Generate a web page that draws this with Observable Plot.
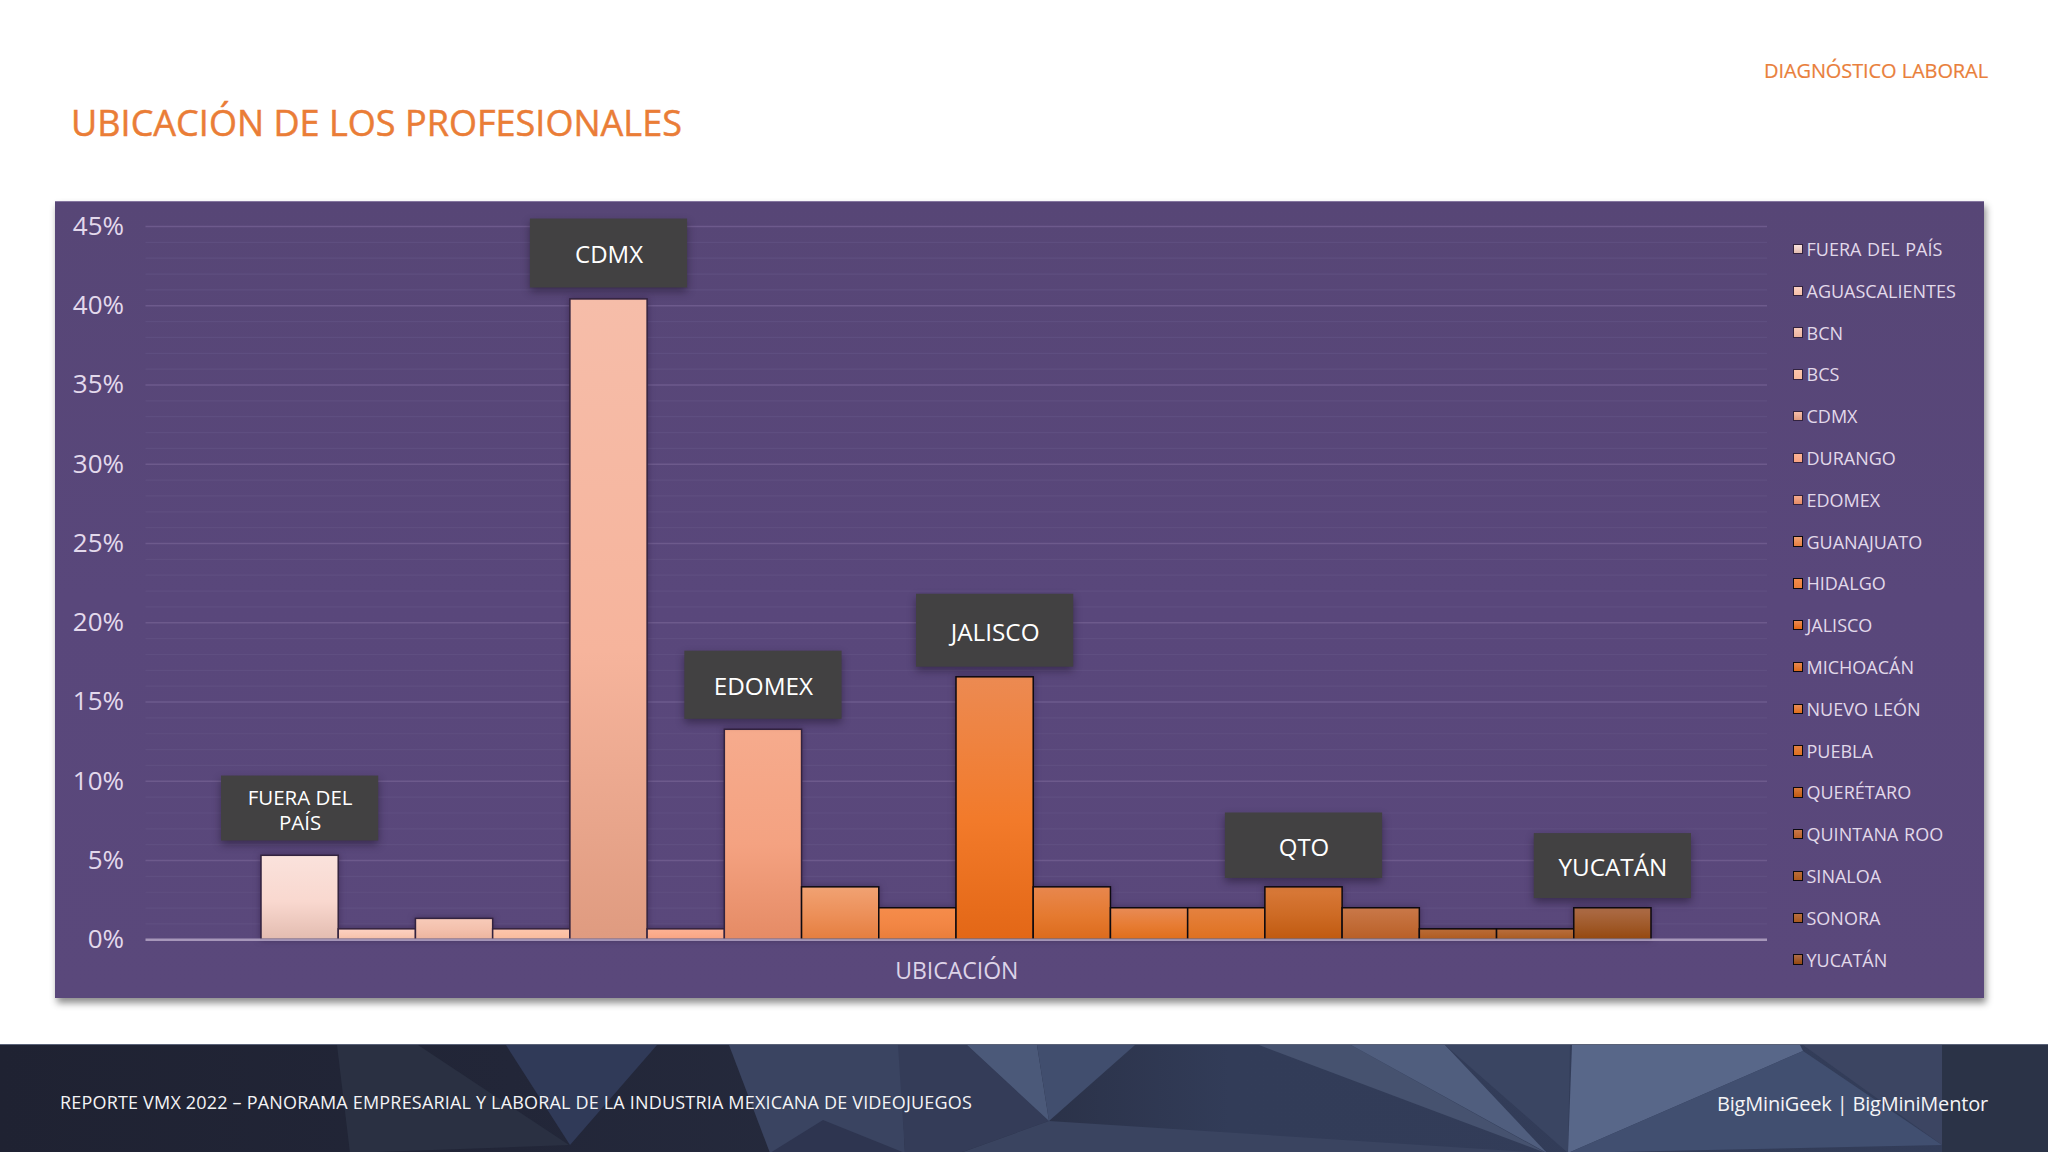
<!DOCTYPE html>
<html lang="es">
<head>
<meta charset="utf-8">
<title>Ubicación de los profesionales</title>
<script src="https://cdn.jsdelivr.net/npm/d3@7"></script>
<script src="https://cdn.jsdelivr.net/npm/@observablehq/plot@0.6"></script>
<style>
  html, body { margin: 0; padding: 0; background: #fff; }
  body { width: 2048px; height: 1152px; position: relative; overflow: hidden; font-family: "Open Sans", sans-serif; }
  .abs { position: absolute; white-space: nowrap; line-height: 1; }
  #chart { position: absolute; left: 55px; top: 201px; box-shadow: 2px 5px 7px rgba(0,0,0,.45); }
  #chart::after { content: ""; position: absolute; left: 0; top: 0; width: 100%; height: 1px; background: #85769f; }
  #chart svg { display: block; }
  #footer { position: absolute; left: 0; top: 1044px; width: 2048px; height: 108px; overflow: hidden;
            background: linear-gradient(90deg, #1f2232 0%, #222638 25%, #262b3e 45%, #323c58 60%, #333d59 100%);
            border-top: 1px solid #5a6278; box-sizing: border-box; }
  #footer div.shard { position: absolute; left: 0; top: 0; width: 2048px; height: 108px; }
  .lg { position: absolute; left: 1792.5px; display: flex; align-items: center; height: 22px; }
  .lg i { display: block; width: 8.5px; height: 8.5px; border-width: 1.5px; border-style: solid; margin-right: 3.5px; }
  .lg span { color: #e2d9ea; font-size: 18px; line-height: 1; word-spacing: 1px; }
</style>
</head>
<body>
<div id="chart"></div>
<div id="legend"></div>
<div id="footer"></div>
<div class="abs" id="title" style="left:71px;top:105px;font-size:36px;-webkit-text-stroke:.5px #ea7d37;color:#ea7d37;">UBICACIÓN DE LOS PROFESIONALES</div>
<div class="abs" id="section" style="left:1764px;top:61px;font-size:20px;-webkit-text-stroke:.2px #e97f3c;color:#e97f3c;">DIAGNÓSTICO LABORAL</div>
<div class="abs" id="foot1" style="left:60px;top:1093px;font-size:18px;color:#f4f4f6;">REPORTE VMX 2022 – PANORAMA EMPRESARIAL Y LABORAL DE LA INDUSTRIA MEXICANA DE VIDEOJUEGOS</div>
<div class="abs" id="foot2" style="left:1717px;top:1094px;font-size:20px;color:#f4f4f6;">BigMiniGeek | BigMiniMentor</div>
<script>
// ---- data ----
const locations = ["FUERA DEL PAÍS","AGUASCALIENTES","BCN","BCS","CDMX","DURANGO","EDOMEX","GUANAJUATO","HIDALGO","JALISCO","MICHOACÁN","NUEVO LEÓN","PUEBLA","QUERÉTARO","QUINTANA ROO","SINALOA","SONORA","YUCATÁN"];
const shares = [5.3,0.66,1.32,0.66,40.4,0.66,13.25,3.31,1.99,16.56,3.31,1.99,1.99,3.31,1.99,0.66,0.66,1.99];

const calloutLocations = ["FUERA DEL PAÍS","CDMX","EDOMEX","JALISCO","QUERÉTARO","YUCATÁN"];
const calloutTexts = ["FUERA DEL\nPAÍS","CDMX","EDOMEX","JALISCO","QTO","YUCATÁN"];
const calloutLow = [6.23,41.12,13.91,17.2,3.87,2.6];
const calloutHigh = [10.33,45.47,18.21,21.8,8.0,6.7];
const calloutSizes = [20.5,24,24.3,24.3,24,24.3];

const majorTicks = [0,5,10,15,20,25,30,35,40,45];
const minorTicks = [1,2,3,4,6,7,8,9,11,12,13,14,16,17,18,19,21,22,23,24,26,27,28,29,31,32,33,34,36,37,38,39,41,42,43,44];

// ---- palette ----
const colorTop = ["#fae2dc","#fdd2c2","#f8cbb9","#fdc6ac","#f6bda9","#fdb294","#f6ab8d","#f1a273","#f58c4b","#ec8a52","#e8874e","#e88b56","#e48140","#d97a3a","#c97849","#ba6c37","#b96e3e","#ad6c48"];
const colorMid = ["#f9d8cf","#f9c9b5","#f3c0ac","#fbc0a4","#f6b49c","#fbab8b","#f4a281","#ec8f58","#f28644","#f27a2a","#e57a30","#e77c33","#e2792e","#cd6a24","#c16b36","#b4632b","#b0642f","#a05a2a"];
const colorBottom = ["#e3bcb0","#f5bfa7","#ecb49e","#f8ba9c","#df9b80","#f8a382","#e58b65","#e57e3f","#e97d3a","#e36716","#dc6b1c","#e06e1b","#dd7020","#c05a10","#b85f27","#ae5a1f","#a85a20","#95480f"];
const outline = locations.map((d,i) => i < 7 ? "#33233f" : "#0d0a10");

const table = locations.map((name,i) => ({name, share: shares[i], fill: `url(#bar${i})`, edge: outline[i]}));
const callouts = calloutLocations.map((name,i) => ({name, text: calloutTexts[i], low: calloutLow[i], high: calloutHigh[i], mid: (calloutLow[i]+calloutHigh[i])/2, size: calloutSizes[i]}));

const gradients = () => {
  const defs = d3.create("svg:defs");
  locations.forEach((_,i) => {
    const g = defs.append("linearGradient").attr("id",`bar${i}`).attr("x1",0).attr("x2",0).attr("y1",0).attr("y2",1);
    g.append("stop").attr("offset","0%").attr("stop-color",colorTop[i]);
    g.append("stop").attr("offset","55%").attr("stop-color",colorMid[i]);
    g.append("stop").attr("offset","100%").attr("stop-color",colorBottom[i]);
  });
  return defs.node();
};

const font = '"Open Sans", sans-serif';
const chart = Plot.plot({
  width: 1929, height: 797,
  marginLeft: 90.5, marginRight: 217, marginTop: 25, marginBottom: 58.7,
  style: {background: "linear-gradient(180deg,#574676 0%,#59477b 50%,#5a487b 100%)", fontFamily: font, overflow: "visible"},
  x: {domain: locations, range: [206, 1596], padding: 0, round: false, axis: null},
  y: {domain: [0,45], label: null, axis: null},
  color: {type: "identity"},
  marks: [
    gradients,
    Plot.ruleY(minorTicks, {stroke: "#635384", strokeWidth: 1.2, strokeOpacity: .65}),
    Plot.ruleY(majorTicks.slice(1), {stroke: "#6d5a8c", strokeWidth: 1.5}),
    Plot.axisY({ticks: majorTicks, tickSize: 0, tickPadding: 22, tickFormat: d => d + "%", label: null, fontSize: 26, color: "#e3d9ec", fontFamily: font}),
    Plot.barY(table, {x: "name", y: "share", fill: "fill", stroke: "edge", strokeWidth: 1.5, imageFilter: "drop-shadow(0 0 3px rgba(45,28,65,.55))"}),
    Plot.ruleY([0], {stroke: "#b5a6c6", strokeOpacity: .85, strokeWidth: 2.5}),
    Plot.barY(callouts, {x: "name", y1: "low", y2: "high", insetLeft: -40, insetRight: -40, fill: "#424142", imageFilter: "drop-shadow(0 4px 4px rgba(20,10,30,.45))"}),
    Plot.text(callouts, {x: "name", y: "mid", text: "text", fill: "#fff", fontSize: "size", lineHeight: 1.22, dy: 0.5, fontFamily: font}),
    Plot.text(["UBICACIÓN"], {frameAnchor: "bottom", dy: 39, fill: "#ddd3e8", fontSize: 23, fontFamily: font})
  ]
});
document.getElementById("chart").append(chart);

// ---- legend ----
const legend = d3.select("#legend");
locations.forEach((name,i) => {
  const row = legend.append("div").attr("class","lg").style("top",(238 + i*41.8)+"px");
  row.append("i").style("background",`linear-gradient(${colorTop[i]},${colorBottom[i]})`).style("border-color",outline[i]);
  row.append("span").text(name);
});

// ---- footer backdrop facets ----
const facets = [
  ["#2a3042", "337px 0,418px 0,569px 100px,350px 108px"],
  ["#303a58", "506px 0,657px 0,570px 100px"],
  ["#3a4461", "729px 0,900px 0,905px 108px,770px 108px"],
  ["#2e3550", "823px 75px,770px 108px,905px 108px"],
  ["#343c58", "898px 0,967px 0,1049px 76px,960px 108px,905px 108px"],
  ["#4b5979", "967px 0,1037px 0,1049px 76px"],
  ["#414e6e", "1037px 0,1135px 0,1049px 76px"],
  ["#3a4460", "1049px 76px,1547px 108px,960px 108px"],
  ["#46526f", "1259px 0,1351px 0,1546px 108px"],
  ["#505e7e", "1351px 0,1445px 0,1547px 108px"],
  ["#3a4562", "1445px 0,1570px 0,1568px 108px"],
  ["#586789", "1572px 0,1800px 0,1803px 6px,1568px 108px"],
  ["#414f70", "1803px 6px,1942px 100px,1568px 108px"],
  ["#3c4562", "1803px 0,1942px 0,1942px 100px"],
  ["#2b3347", "1942px 0,2048px 0,2048px 108px,1942px 108px"]
];
const foot = d3.select("#footer");
facets.forEach(([c,p]) => foot.append("div").attr("class","shard").style("background",c).style("clip-path",`polygon(${p})`));

// ---- fit long HTML texts to the widths ----
const fit = (id, target) => {
  const el = document.getElementById(id);
  const w = el.getBoundingClientRect().width;
  el.style.letterSpacing = ((target - w) / el.textContent.length).toFixed(3) + "px";
};
fit("title", 611); fit("section", 224); fit("foot1", 912); fit("foot2", 271);
</script>
</body>
</html>
